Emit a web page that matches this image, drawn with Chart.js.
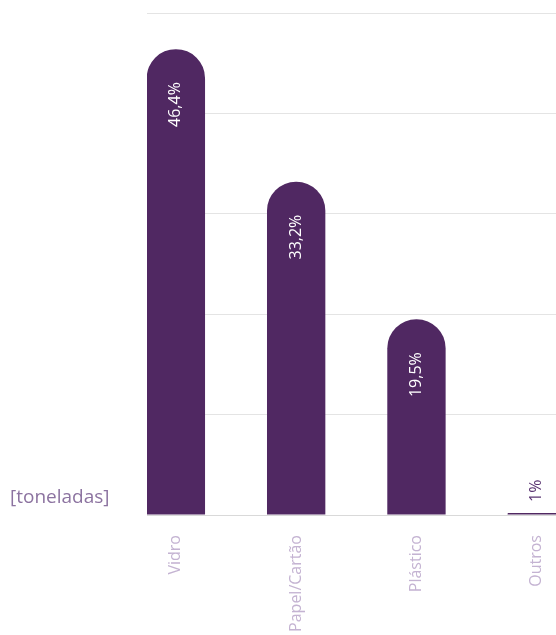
<!DOCTYPE html>
<html>
<head>
<meta charset="utf-8">
<script src="https://cdn.jsdelivr.net/npm/chart.js@4"></script>
<style>
  html, body { margin: 0; padding: 0; background: #fff; overflow: hidden; }
  #wrap { position: relative; width: 556px; height: 635px; }
  #unit {
    position: absolute; left: 10px; top: 483px;
    font-family: "Open Sans", sans-serif; font-size: 19px; color: #8c73a0;
  }
</style>
</head>
<body>
<div id="wrap">
  <canvas id="myChart"></canvas>
  <div id="unit">[toneladas]</div>
</div>
<script>
'use strict';

var categories = ['Vidro', 'Papel/Cartão', 'Plástico', 'Outros'];
var values = [46.4, 33.2, 19.5, 0.2];
var valueLabels = ['46,4%', '33,2%', '19,5%', '1%'];
var yTicks = [0, 10, 20, 30, 40, 50];

var barColor = '#502862';
var fontName = '"Open Sans", sans-serif';

function buildPoints() {
  var tempArray = [];
  for (var i = 0; i < categories.length; i++) {
    tempArray.push({ x: i, y: values[i] });
  }
  return tempArray;
}

// draws the percentages, inside the tall bars and above the tiny one
var barLabels = {
  id: 'barLabels',
  afterDatasetsDraw: function (chart) {
    var ctx = chart.ctx;
    var meta = chart.getDatasetMeta(0);
    ctx.save();
    ctx.font = '16px ' + fontName;
    ctx.textBaseline = 'middle';
    for (var i = 0; i < meta.data.length; i++) {
      var bar = meta.data[i];
      var p = bar.getProps(['x', 'y', 'base'], true);
      ctx.save();
      if (p.base - p.y > 80) {
        ctx.translate(p.x, p.y + 33);
        ctx.rotate(-Math.PI / 2);
        ctx.textAlign = 'right';
        ctx.fillStyle = '#ffffff';
      } else {
        ctx.translate(p.x, p.y - 11);
        ctx.rotate(-Math.PI / 2);
        ctx.textAlign = 'left';
        ctx.fillStyle = '#5a3572';
      }
      ctx.fillText(valueLabels[i], 0, 0);
      ctx.restore();
    }
    ctx.restore();
  }
};

var ctx = document.getElementById('myChart').getContext('2d');
var chart = new Chart(ctx, {
  type: 'bar',
  data: {
    datasets: [{
      data: buildPoints(),
      backgroundColor: barColor,
      borderWidth: 0,
      borderRadius: { topLeft: 29, topRight: 29, bottomLeft: 0, bottomRight: 0 },
      borderSkipped: 'bottom',
      categoryPercentage: 0.97,
      barPercentage: 0.5
    }]
  },
  options: {
    responsive: true,
    maintainAspectRatio: false,
    animation: false,
    layout: { padding: { top: 13, right: 0, left: 0, bottom: 0 } },
    plugins: {
      legend: { display: false },
      tooltip: { enabled: false }
    },
    scales: {
      x: {
        type: 'linear',
        position: 'bottom',
        offset: false,
        min: -0.24,
        max: 3.16,
        grid: { display: false, offset: false },
        border: { display: true, color: '#d9d9d9', width: 1 },
        afterBuildTicks: function (scale) {
          scale.ticks = categories.map(function (c, i) { return { value: i }; });
        },
        afterFit: function (scale) {
          scale.height = 120;
          scale.paddingLeft = 0;
          scale.paddingRight = 0;
        },
        ticks: {
          autoSkip: false,
          minRotation: 90,
          maxRotation: 90,
          padding: 12,
          color: '#c4b3d2',
          font: { family: fontName, size: 16 },
          callback: function (value) { return categories[value]; }
        }
      },
      y: {
        min: yTicks[0],
        max: yTicks[yTicks.length - 1],
        afterBuildTicks: function (scale) {
          scale.ticks = yTicks.map(function (v) { return { value: v }; });
        },
        afterFit: function (scale) { scale.width = 147; },
        grid: { color: '#e4e4e4', drawTicks: false },
        border: { display: false },
        ticks: { display: false }
      }
    }
  },
  plugins: [barLabels]
});
</script>
</body>
</html>
